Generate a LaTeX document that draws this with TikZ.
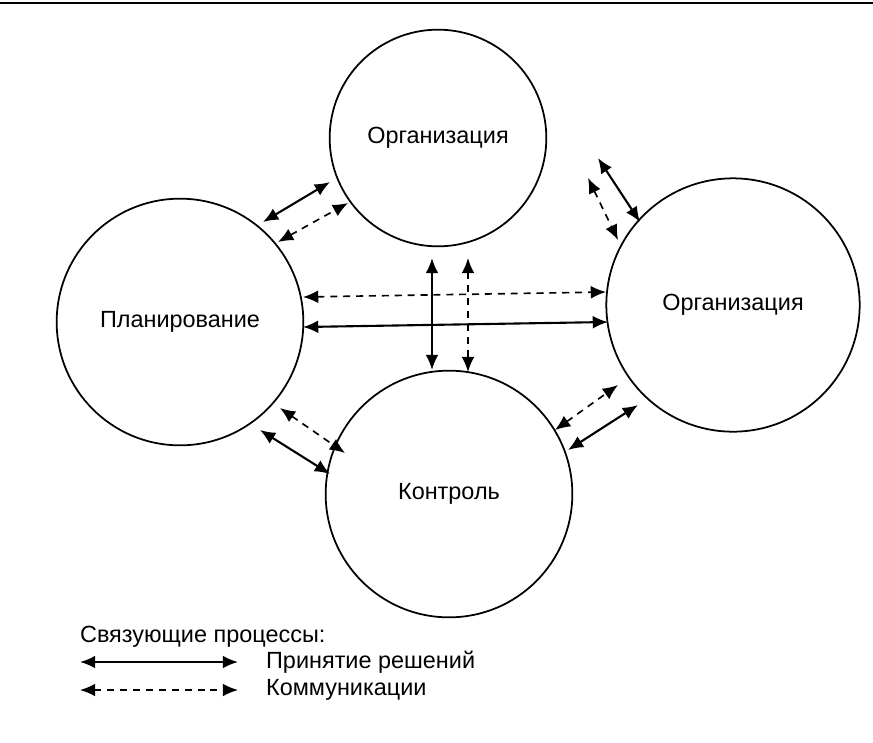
\documentclass[tikz,border=0pt]{standalone}
\usepackage{fontspec}
\setmainfont{Liberation Sans}
\usetikzlibrary{arrows.meta}
\tikzset{
  proc/.style={circle, draw, line width=1.5pt, inner sep=0pt},
  lbl/.style={font=\fontsize{20}{24}\selectfont},
  decide/.style={line width=1.8pt, {Latex[length=13pt,width=11pt]}-{Latex[length=13pt,width=11pt]}},
  talk/.style={decide, line width=1.4pt, dash pattern=on 6pt off 5pt}
}
\begin{document}
\begin{tikzpicture}[x=0.03cm, y=-0.03cm]
    \useasboundingbox (0,0) rectangle (873,742);
    \draw[line width=1.2pt] (0,3) -- (873,3);
    % circles
    \node[proc, minimum size=6.5cm] (org) at (438,138) {};
    \node[lbl] at (org) {Организация};
    \node[proc, minimum size=7.4cm] (plan) at (180,322) {};
    \node[lbl] at (plan) {Планирование};
    \node[proc, minimum size=7.6cm] (org2) at (733,305) {};
    \node[lbl] at (org2) {Организация};
    \node[proc, minimum size=7.4cm] (ctrl) at (449,494) {};
    \node[lbl] at (ctrl) {Контроль};
    % arrow ends
    \foreach \n/\p in {a1/{263,222}, a2/{330,182}, b1/{278,242}, b2/{348,203},
        c1/{598,158}, c2/{640,222}, d1/{588,178}, d2/{618,240},
        e1/{432,258}, e2/{432,370}, f1/{468,258}, f2/{468,372},
        g1/{303,297}, g2/{606,292}, h1/{303,327}, h2/{608,322},
        i1/{280,408}, i2/{345,453}, j1/{260,430}, j2/{330,474},
        k1/{555,430}, k2/{618,385}, l1/{568,450}, l2/{638,405},
        m1/{80,662}, m2/{238,662}, n1/{80,690}, n2/{238,690}}
        \coordinate (\n) at (\p);
    \foreach \s/\t in {a1/a2, c1/c2, e1/e2, h1/h2, j1/j2, l1/l2, m1/m2}
        \draw[decide] (\s) -- (\t);
    \foreach \s/\t in {b1/b2, d1/d2, f1/f2, g1/g2, i1/i2, k1/k2, n1/n2}
        \draw[talk] (\s) -- (\t);
    % legend
    \node[anchor=west, lbl] (lgd) at (76,637) {Связующие процессы:};
    \node[anchor=west, lbl] (lg1) at (262,662) {Принятие решений};
    \node[anchor=west, lbl] (lg2) at (262,690) {Коммуникации};
\end{tikzpicture}
\end{document}
